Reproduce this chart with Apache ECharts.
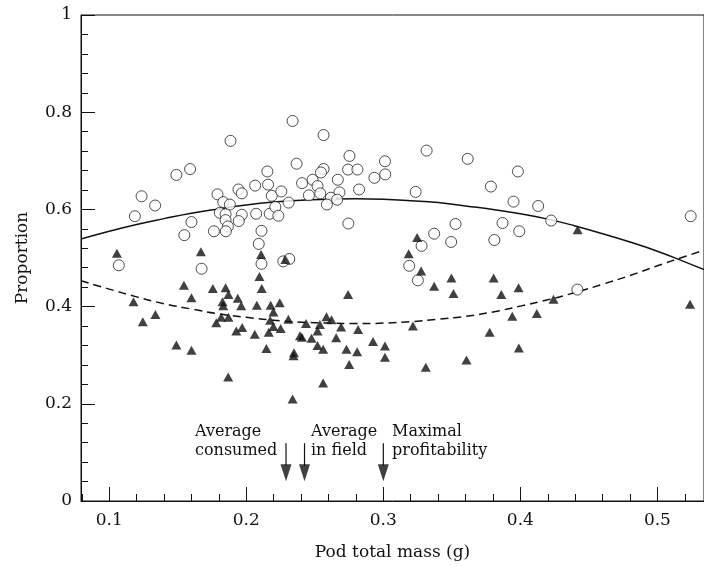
<!DOCTYPE html>
<html>
<head>
<meta charset="utf-8">
<script src="https://cdn.jsdelivr.net/npm/echarts@6/dist/echarts.min.js"></script>
<style>
  html, body { margin: 0; padding: 0; background: #fff; }
  #chart { width: 704px; height: 566px; }
</style>
</head>
<body>
<div id="chart"></div>
<script>
// open circles
const circleX = [0.1885, 0.159, 0.149, 0.1236, 0.1335, 0.1187, 0.160, 0.1548, 0.107, 0.1674,
  0.179, 0.1832, 0.188, 0.1807, 0.1849, 0.1849, 0.1866, 0.1851, 0.1764, 0.1943,
  0.1967, 0.1967, 0.1945, 0.2065, 0.2154, 0.2159, 0.2186, 0.2256, 0.2072, 0.2171,
  0.2212, 0.2234, 0.2111, 0.2091, 0.2111, 0.227, 0.2309, 0.2314, 0.2338, 0.2564,
  0.2367, 0.2753, 0.3012, 0.3316, 0.3616, 0.2564, 0.2545, 0.2743, 0.2811, 0.3014,
  0.2935, 0.2484, 0.2668, 0.2407, 0.252, 0.268, 0.2823, 0.254, 0.2457, 0.2617,
  0.2663, 0.2588, 0.3236, 0.3785, 0.2745, 0.3527, 0.3371, 0.3495, 0.3279, 0.381,
  0.3189, 0.3252, 0.3982, 0.395, 0.413, 0.4225, 0.387, 0.3992, 0.5243, 0.4416];
const circleY = [0.741, 0.683, 0.671, 0.627, 0.608, 0.586, 0.574, 0.547, 0.485, 0.478,
  0.631, 0.615, 0.610, 0.593, 0.590, 0.578, 0.565, 0.555, 0.555, 0.641,
  0.633, 0.589, 0.576, 0.649, 0.678, 0.651, 0.628, 0.637, 0.591, 0.591,
  0.605, 0.587, 0.556, 0.529, 0.488, 0.493, 0.614, 0.498, 0.782, 0.753,
  0.694, 0.710, 0.699, 0.721, 0.704, 0.683, 0.676, 0.682, 0.682, 0.672,
  0.665, 0.661, 0.661, 0.654, 0.648, 0.635, 0.641, 0.633, 0.629, 0.624,
  0.620, 0.610, 0.636, 0.647, 0.571, 0.570, 0.550, 0.533, 0.525, 0.537,
  0.484, 0.454, 0.678, 0.616, 0.607, 0.577, 0.572, 0.555, 0.586, 0.435];

// filled triangles
const triX = [0.1056, 0.1669, 0.2108, 0.2285, 0.1545, 0.1756, 0.1849, 0.2096, 0.2113, 0.187,
  0.160, 0.1177, 0.1337, 0.1245, 0.1827, 0.1832, 0.1938, 0.1963, 0.1817, 0.187,
  0.1781, 0.2077, 0.2178, 0.2244, 0.2198, 0.2174, 0.2198, 0.2251, 0.197, 0.1927,
  0.2062, 0.2164, 0.2147, 0.149, 0.160, 0.1868, 0.2307, 0.2436, 0.2585, 0.2622,
  0.2537, 0.2692, 0.2816, 0.2743, 0.3216, 0.2392, 0.2406, 0.252, 0.2476, 0.2656,
  0.252, 0.2561, 0.2348, 0.2345, 0.2731, 0.2809, 0.2925, 0.3012, 0.3012, 0.2751,
  0.2561, 0.2338, 0.331, 0.3607, 0.3776, 0.3371, 0.3512, 0.3247, 0.3185, 0.3276,
  0.3497, 0.3805, 0.4418, 0.3987, 0.3861, 0.4242, 0.3941, 0.412, 0.3989, 0.5238];
const triY = [0.510, 0.513, 0.507, 0.497, 0.444, 0.437, 0.439, 0.462, 0.437, 0.425,
  0.418, 0.410, 0.384, 0.369, 0.410, 0.402, 0.417, 0.402, 0.378, 0.378,
  0.367, 0.403, 0.403, 0.408, 0.389, 0.372, 0.359, 0.355, 0.357, 0.350,
  0.343, 0.347, 0.314, 0.321, 0.310, 0.255, 0.374, 0.365, 0.379, 0.373,
  0.363, 0.358, 0.353, 0.425, 0.360, 0.340, 0.337, 0.350, 0.335, 0.336,
  0.320, 0.312, 0.305, 0.299, 0.312, 0.307, 0.328, 0.319, 0.296, 0.281,
  0.243, 0.210, 0.275, 0.290, 0.347, 0.442, 0.427, 0.542, 0.509, 0.473,
  0.459, 0.459, 0.558, 0.439, 0.425, 0.415, 0.380, 0.386, 0.315, 0.405];

// fitted curves
const curveX = [0.0794, 0.10, 0.12, 0.14, 0.16, 0.18, 0.20, 0.22, 0.24, 0.26, 0.28, 0.30,
  0.32, 0.34, 0.36, 0.38, 0.40, 0.42, 0.44, 0.46, 0.48, 0.50, 0.52, 0.534];
const solidY = [0.539, 0.555, 0.569, 0.581, 0.592, 0.601, 0.609, 0.615, 0.619, 0.621, 0.622, 0.621,
  0.618, 0.614, 0.607, 0.600, 0.591, 0.580, 0.566, 0.550, 0.533, 0.514, 0.492, 0.476];
const dashedY = [0.453, 0.436, 0.420, 0.406, 0.395, 0.385, 0.378, 0.372, 0.368, 0.366, 0.365, 0.366,
  0.369, 0.374, 0.380, 0.389, 0.401, 0.414, 0.429, 0.446, 0.464, 0.484, 0.503, 0.516];

// arrows on the x axis
const arrowX = [0.229, 0.2425, 0.3];
const arrowText = ['Average\nconsumed', 'Average\nin field', 'Maximal\nprofitability'];

const font = 'DejaVu Serif';
const ink = '#111';

const zip = (xs, ys) => xs.map((x, i) => [x, ys[i]]);

const chart = echarts.init(document.getElementById('chart'));

// arrow shafts
const shafts = arrowX.map(x => ({
  type: 'line',
  data: [[x, 0.119], [x, 0.072]],
  symbol: 'none',
  lineStyle: { color: ink, width: 1.2 },
  silent: true,
  z: 3
}));

const textLeft = [195, 311, 392];

const option = {
  animation: false,
  // top border line; right side falls just off the canvas
  grid: {
    left: 81, right: -2, top: 15, bottom: 61,
    show: true, borderColor: ink, borderWidth: 1
  },
  xAxis: {
    type: 'value',
    min: 0.0794,
    max: 0.534,
    splitNumber: 5,
    name: 'Pod total mass (g)',
    nameLocation: 'middle',
    nameGap: 43,
    nameTextStyle: { fontFamily: font, fontSize: 17, color: ink },
    axisLine: { show: true, onZero: false, lineStyle: { color: ink } },
    axisTick: { show: true, inside: true, length: 14 },
    minorTick: { show: true, splitNumber: 5, length: 7 },
    axisLabel: {
      showMinLabel: false, showMaxLabel: false, margin: 11,
      fontFamily: font, fontSize: 17, color: ink
    },
    splitLine: { show: false }
  },
  yAxis: {
    type: 'value',
    min: 0,
    max: 1,
    interval: 0.2,
    name: 'Proportion',
    nameLocation: 'middle',
    nameGap: 50,
    nameTextStyle: { fontFamily: font, fontSize: 17, color: ink },
    axisLine: { show: true, lineStyle: { color: ink } },
    axisTick: { show: true, inside: true, length: 14 },
    minorTick: { show: true, splitNumber: 5, length: 7 },
    axisLabel: { margin: 9, fontFamily: font, fontSize: 17, color: ink },
    splitLine: { show: false }
  },
  series: [
    {
      // solid curve
      type: 'line',
      data: zip(curveX, solidY),
      smooth: true,
      symbol: 'none',
      lineStyle: { color: ink, width: 1.5 },
      z: 2
    },
    {
      // dashed curve
      type: 'line',
      data: zip(curveX, dashedY),
      smooth: true,
      symbol: 'none',
      lineStyle: { color: ink, width: 1.5, type: [8, 5] },
      z: 2
    },
    {
      type: 'scatter',
      data: zip(circleX, circleY),
      symbol: 'circle',
      symbolSize: 11,
      itemStyle: { color: '#fff', borderColor: '#222', borderWidth: 1 },
      z: 4
    },
    {
      type: 'scatter',
      data: zip(triX, triY),
      symbol: 'triangle',
      symbolSize: [10, 9],
      itemStyle: { color: ink },
      z: 5
    },
    ...shafts,
    {
      // arrow heads
      type: 'scatter',
      data: arrowX.map(x => [x, 0.058]),
      symbol: 'triangle',
      symbolRotate: 180,
      symbolSize: [11, 17],
      itemStyle: { color: ink },
      silent: true,
      z: 5
    }
  ],
  graphic: arrowText.map((t, i) => ({
    type: 'text',
    left: textLeft[i],
    top: 422,
    style: {
      text: t,
      fontFamily: font,
      fontSize: 16,
      lineHeight: 19,
      fill: ink
    }
  }))
};

chart.setOption(option);
</script>
</body>
</html>
